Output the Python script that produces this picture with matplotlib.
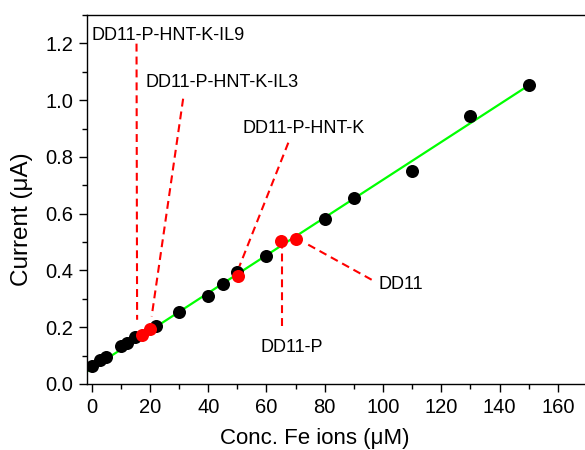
import numpy as np
import matplotlib
matplotlib.use('Agg')
import matplotlib.pyplot as plt
from matplotlib.ticker import MultipleLocator

plt.rcParams['font.family'] = ['Liberation Sans', 'DejaVu Sans']

# black calibration points
conc = [0, 3, 5, 10, 12, 15, 22, 30, 40, 45, 50, 60, 80, 90, 110, 130, 150]
current = [0.062, 0.086, 0.095, 0.132, 0.144, 0.164, 0.203, 0.254, 0.311, 0.352,
           0.394, 0.452, 0.582, 0.654, 0.752, 0.943, 1.052]

# red sample points
samples = ['DD11-P-HNT-K-IL9', 'DD11-P-HNT-K-IL3', 'DD11-P-HNT-K', 'DD11-P', 'DD11']
sample_conc = [17.2, 20.0, 50.1, 65.0, 70.0]
sample_current = [0.174, 0.194, 0.381, 0.502, 0.512]

# linear fit line (end points)
fit_x = [-1.7, 150]
fit_y = [0.043, 1.052]

# label text anchor and leader line (start near text, end near point)
label_xy = [(-0.2, 1.227), (18.5, 1.061), (51.9, 0.899), (58.0, 0.127), (98.4, 0.352)]
leader_start = [(15.4, 1.199), (31.4, 1.005), (67.5, 0.85), (65.2, 0.203), (96.1, 0.367)]
leader_end = [(15.6, 0.226), (20.6, 0.238), (50.7, 0.414), (65.2, 0.497), (73.2, 0.497)]

fig = plt.figure(figsize=(5.85, 4.5), dpi=100)
ax = fig.add_axes([0.1482, 0.1456, 1.0034 - 0.1482, 0.9667 - 0.1456])

for (x0, y0), (x1, y1) in zip(leader_start, leader_end):
    ax.plot([x0, x1], [y0, y1], color='red', linestyle=(0, (3.8, 2.4)), linewidth=1.5, zorder=1)

ax.plot(fit_x, fit_y, color='#00ff00', linewidth=1.6, zorder=2)
ax.scatter(conc, current, s=88, color='black', linewidths=0, zorder=3)
ax.scatter(sample_conc, sample_current, s=88, color='red', linewidths=0, zorder=4)

for name, (tx, ty) in zip(samples, label_xy):
    ax.text(tx, ty, name, fontsize=13, ha='left', va='center', zorder=5)

ax.set_xlim(-1.7, 170)
ax.set_ylim(-0.002, 1.3)
ax.xaxis.set_major_locator(MultipleLocator(20))
ax.xaxis.set_minor_locator(MultipleLocator(10))
ax.yaxis.set_major_locator(MultipleLocator(0.2))
ax.yaxis.set_minor_locator(MultipleLocator(0.1))
ax.yaxis.set_major_formatter(matplotlib.ticker.FormatStrFormatter('%.1f'))
ax.tick_params(which='major', direction='out', length=6, width=1, labelsize=14.5)
ax.tick_params(which='minor', direction='out', length=3.5, width=1)
ax.tick_params(top=False, right=False, which='both')
for sp in ax.spines.values():
    sp.set_linewidth(1.0)

ax.set_xlabel('Conc. Fe ions (\u03bcM)', fontsize=16)
ax.set_ylabel('Current (\u03bcA)', fontsize=17.5)
ax.xaxis.label.set_va('center')
ax.yaxis.label.set_va('center')
ax.xaxis.set_label_coords(0.456, -0.145)
ax.yaxis.set_label_coords(-0.129, 0.448)

fig.savefig('out.png', dpi=100)
